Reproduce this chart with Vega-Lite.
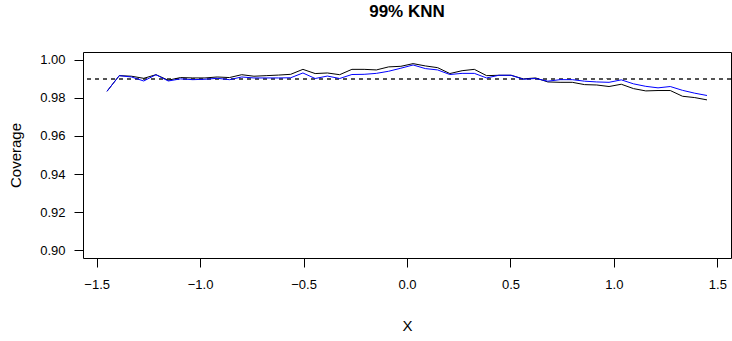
{
  "$schema": "https://vega.github.io/schema/vega-lite/v6.json",
  "width": 648,
  "height": 206,
  "autosize": {"type": "none"},
  "padding": {"left": 83, "top": 52, "right": 1, "bottom": 83},
  "background": "white",
  "title": {"text": "99% KNN", "font": "Liberation Sans", "fontSize": 17, "fontWeight": "bold", "color": "black", "anchor": "middle", "offset": 31},
  "config": {
    "view": {"stroke": "black", "strokeWidth": 1},
    "axis": {"labelFont": "Liberation Sans", "labelFontSize": 13, "labelColor": "black", "titleFont": "Liberation Sans", "titleFontSize": 15, "titleFontWeight": "normal", "titleColor": "black", "tickColor": "black", "tickSize": 9, "domain": false, "grid": false}
  },
  "datasets": {
    "cov": [
      {"x": -1.45, "K": 0.9834, "B": 0.9834},
      {"x": -1.3908, "K": 0.9916, "B": 0.9916},
      {"x": -1.3316, "K": 0.9913, "B": 0.9909},
      {"x": -1.2724, "K": 0.9902, "B": 0.9888},
      {"x": -1.2133, "K": 0.9921, "B": 0.9921},
      {"x": -1.1541, "K": 0.9892, "B": 0.9888},
      {"x": -1.0949, "K": 0.9906, "B": 0.9899},
      {"x": -1.0357, "K": 0.9904, "B": 0.9895},
      {"x": -0.9765, "K": 0.9904, "B": 0.9897},
      {"x": -0.9173, "K": 0.9909, "B": 0.9902},
      {"x": -0.8582, "K": 0.9906, "B": 0.9895},
      {"x": -0.799, "K": 0.9921, "B": 0.9909},
      {"x": -0.7398, "K": 0.9913, "B": 0.9904},
      {"x": -0.6806, "K": 0.9916, "B": 0.9904},
      {"x": -0.6214, "K": 0.9919, "B": 0.9904},
      {"x": -0.5622, "K": 0.9923, "B": 0.9905},
      {"x": -0.5031, "K": 0.9949, "B": 0.993},
      {"x": -0.4439, "K": 0.9927, "B": 0.9901},
      {"x": -0.3847, "K": 0.993, "B": 0.9914},
      {"x": -0.3255, "K": 0.9921, "B": 0.9901},
      {"x": -0.2663, "K": 0.9949, "B": 0.9922},
      {"x": -0.2071, "K": 0.9949, "B": 0.9923},
      {"x": -0.148, "K": 0.9946, "B": 0.9928},
      {"x": -0.0888, "K": 0.9962, "B": 0.9939},
      {"x": -0.0296, "K": 0.9965, "B": 0.9955},
      {"x": 0.0296, "K": 0.9979, "B": 0.9972},
      {"x": 0.0888, "K": 0.9967, "B": 0.9953},
      {"x": 0.148, "K": 0.9958, "B": 0.9946},
      {"x": 0.2071, "K": 0.9927, "B": 0.9922},
      {"x": 0.2663, "K": 0.9942, "B": 0.9928},
      {"x": 0.3255, "K": 0.9949, "B": 0.9928},
      {"x": 0.3847, "K": 0.9916, "B": 0.9904},
      {"x": 0.4439, "K": 0.9918, "B": 0.9918},
      {"x": 0.5031, "K": 0.9918, "B": 0.9918},
      {"x": 0.5622, "K": 0.9899, "B": 0.9897},
      {"x": 0.6214, "K": 0.9904, "B": 0.9901},
      {"x": 0.6806, "K": 0.9883, "B": 0.9887},
      {"x": 0.7398, "K": 0.9881, "B": 0.9895},
      {"x": 0.799, "K": 0.9881, "B": 0.9895},
      {"x": 0.8582, "K": 0.9869, "B": 0.9887},
      {"x": 0.9173, "K": 0.9867, "B": 0.9883},
      {"x": 0.9765, "K": 0.9859, "B": 0.9881},
      {"x": 1.0357, "K": 0.9871, "B": 0.9894},
      {"x": 1.0949, "K": 0.9848, "B": 0.9873},
      {"x": 1.1541, "K": 0.9836, "B": 0.986},
      {"x": 1.2133, "K": 0.9838, "B": 0.9852},
      {"x": 1.2724, "K": 0.9838, "B": 0.9859},
      {"x": 1.3316, "K": 0.9808, "B": 0.9839},
      {"x": 1.3908, "K": 0.9801, "B": 0.9824},
      {"x": 1.45, "K": 0.9789, "B": 0.9812}
    ]
  },
  "data": {"name": "cov"},
  "layer": [
    {
      "mark": {"type": "rule", "stroke": "#555555", "strokeWidth": 1, "strokeDash": [4, 4]},
      "encoding": {"y": {"datum": 0.99, "type": "quantitative"}}
    },
    {
      "mark": {"type": "line", "stroke": "black", "strokeWidth": 1, "clip": true},
      "encoding": {
        "x": {"field": "x", "type": "quantitative", "scale": {"domain": [-1.566, 1.566], "nice": false, "zero": false},
              "axis": {"title": "X", "values": [-1.5, -1, -0.5, 0, 0.5, 1, 1.5], "format": ".1f", "labelPadding": 11, "titlePadding": 27}},
        "y": {"field": "K", "type": "quantitative", "scale": {"domain": [0.896, 1.004], "nice": false, "zero": false},
              "axis": {"title": "Coverage", "values": [0.9, 0.92, 0.94, 0.96, 0.98, 1.0], "format": ".2f", "labelPadding": 9, "titlePadding": 16}}
      }
    },
    {
      "mark": {"type": "line", "stroke": "#0000FF", "strokeWidth": 1, "clip": true},
      "encoding": {
        "x": {"field": "x", "type": "quantitative"},
        "y": {"field": "B", "type": "quantitative"}
      }
    }
  ]
}
